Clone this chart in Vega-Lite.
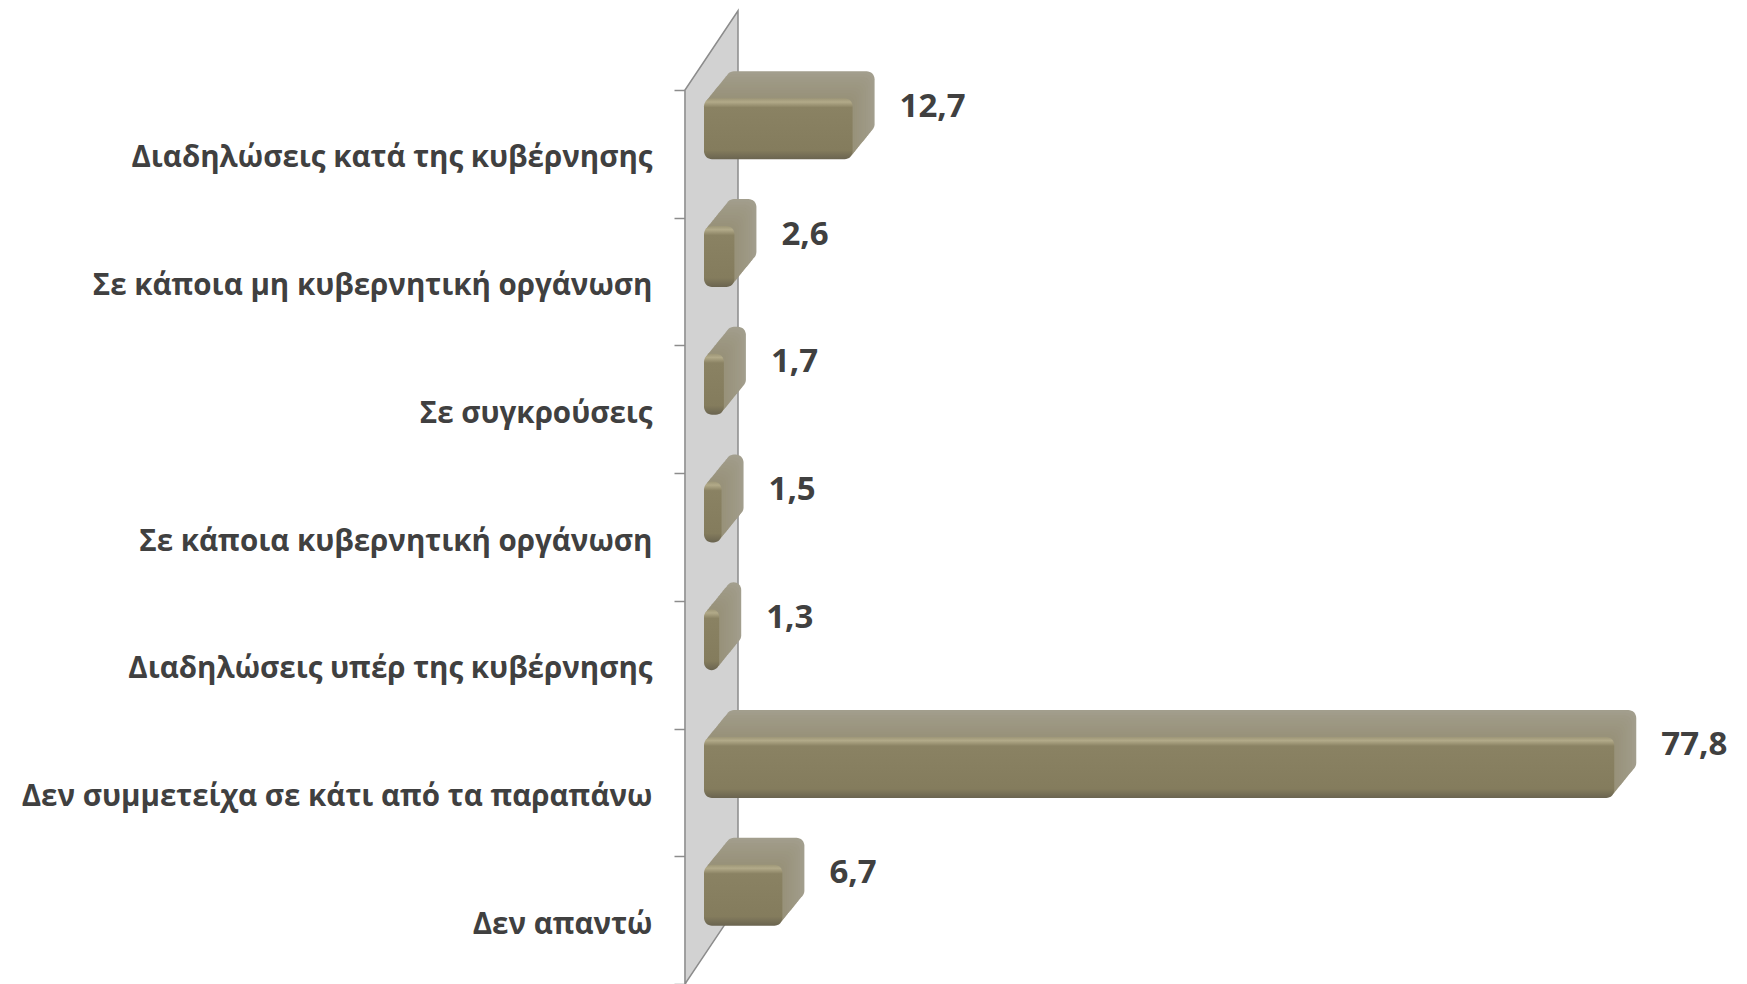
{
  "$schema": "https://vega.github.io/schema/vega-lite/v6.json",
  "autosize": {"type": "none"},
  "padding": {"left": 685, "top": 90, "right": 0, "bottom": 0},
  "width": 1053,
  "height": 894,
  "background": "white",
  "config": {"view": {"stroke": null}},
  "datasets": {
    "bars": [
      {"cat": "Διαδηλώσεις κατά της κυβέρνησης", "value": 12.7, "label": "12,7"},
      {"cat": "Σε κάποια μη κυβερνητική οργάνωση", "value": 2.6, "label": "2,6"},
      {"cat": "Σε συγκρούσεις", "value": 1.7, "label": "1,7"},
      {"cat": "Σε κάποια κυβερνητική οργάνωση", "value": 1.5, "label": "1,5"},
      {"cat": "Διαδηλώσεις υπέρ της κυβέρνησης", "value": 1.3, "label": "1,3"},
      {"cat": "Δεν συμμετείχα σε κάτι από τα παραπάνω", "value": 77.8, "label": "77,8"},
      {"cat": "Δεν απαντώ", "value": 6.7, "label": "6,7"}
    ],
    "wall": [
      {"wx": 0, "top": 0, "bottom": 7},
      {"wx": 4.53, "top": -0.62, "bottom": 6.38}
    ]
  },
  "layer": [
    {
      "data": {"name": "wall"},
      "mark": {"type": "area", "orient": "vertical", "fill": "#d2d2d2", "stroke": "#8c8c8c", "strokeWidth": 1.5, "clip": false},
      "encoding": {
        "x": {"field": "wx", "type": "quantitative", "scale": {"domain": [0, 90], "nice": false, "zero": true}, "axis": null},
        "y": {"field": "top", "type": "quantitative", "scale": {"domain": [0, 7], "reverse": true, "nice": false, "zero": false}, "axis": null},
        "y2": {"field": "bottom"}
      }
    },
    {
      "data": {"name": "bars"},
      "encoding": {
        "y": {"field": "cat", "type": "nominal", "sort": null, "scale": {"paddingInner": 0, "paddingOuter": 0},
          "axis": {"title": null, "domain": true, "domainColor": "#8c8c8c", "domainWidth": 1.5, "ticks": true, "tickBand": "extent", "tickColor": "#8c8c8c", "tickWidth": 1.5, "tickSize": 11, "labelPadding": 22, "labelOffset": 4, "labelFont": "Open Sans", "labelFontWeight": "bold", "labelFontSize": 29.5, "labelColor": "#404040", "labelLimit": 800}}
      },
      "layer": [
        {
          "encoding": {
            "x": {"field": "value", "type": "quantitative", "stack": null, "scale": {"domain": [0, 90], "nice": false}, "axis": null},
            "x2": {"datum": 0}
          },
          "layer": [
            {"mark": {"type": "bar", "height": 61, "xOffset": 41, "x2Offset": 41, "yOffset": -52, "cornerRadius": 8, "color": "#a29e8d"}},
            {"mark": {"type": "bar", "height": 61, "xOffset": 38.8, "x2Offset": 38.8, "yOffset": -49.3, "cornerRadius": 8, "color": "#a19c8a"}},
            {"mark": {"type": "bar", "height": 61, "xOffset": 36.6, "x2Offset": 36.6, "yOffset": -46.6, "cornerRadius": 8, "color": "#9f9a87"}},
            {"mark": {"type": "bar", "height": 61, "xOffset": 34.4, "x2Offset": 34.4, "yOffset": -43.9, "cornerRadius": 8, "color": "#9e9985"}},
            {"mark": {"type": "bar", "height": 61, "xOffset": 32.2, "x2Offset": 32.2, "yOffset": -41.2, "cornerRadius": 8, "color": "#9d9883"}},
            {"mark": {"type": "bar", "height": 61, "xOffset": 30, "x2Offset": 30, "yOffset": -38.5, "cornerRadius": 8, "color": "#9c9781"}},
            {"mark": {"type": "bar", "height": 61, "xOffset": 27.8, "x2Offset": 27.8, "yOffset": -35.8, "cornerRadius": 8, "color": "#9b9580"}},
            {"mark": {"type": "bar", "height": 61, "xOffset": 25.6, "x2Offset": 25.6, "yOffset": -33.1, "cornerRadius": 8, "color": "#9a947e"}},
            {"mark": {"type": "bar", "height": 61, "xOffset": 23.4, "x2Offset": 23.4, "yOffset": -30.4, "cornerRadius": 8, "color": "#99937c"}},
            {"mark": {"type": "bar", "height": 61, "xOffset": 21.2, "x2Offset": 21.2, "yOffset": -27.7, "cornerRadius": 8, "color": "#98927a"}},
            {
              "mark": {"type": "bar", "height": 61, "xOffset": 19, "x2Offset": 19, "yOffset": -25, "cornerRadius": 8,
                "color": {"gradient": "linear", "x1": 0, "y1": 0, "x2": 0, "y2": 1,
                  "stops": [{"offset": 0, "color": "#9d9677"}, {"offset": 0.06, "color": "#b2aa89"}, {"offset": 0.15, "color": "#8a8263"}, {"offset": 0.85, "color": "#847c5d"}, {"offset": 1, "color": "#6a6450"}]}}
            }
          ]
        },
        {
          "mark": {"type": "text", "align": "left", "baseline": "middle", "dx": 66, "yOffset": -47, "font": "Open Sans", "fontWeight": "bold", "fontSize": 33, "color": "#404040"},
          "encoding": {
            "x": {"field": "value", "type": "quantitative"},
            "text": {"field": "label"}
          }
        }
      ]
    }
  ],
  "resolve": {"scale": {"y": "independent"}}
}
